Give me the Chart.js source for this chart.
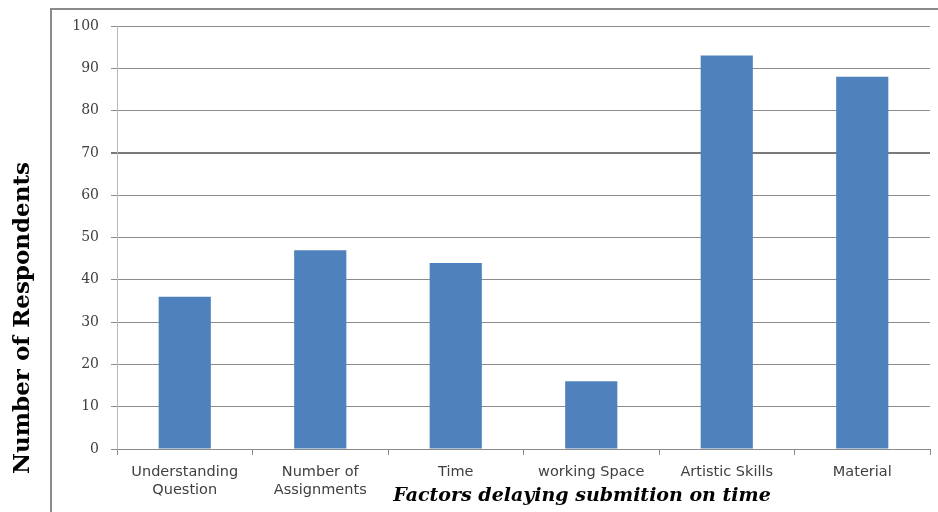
<!DOCTYPE html>
<html>
<head>
<meta charset="utf-8">
<script src="https://cdn.jsdelivr.net/npm/chart.js@4/dist/chart.umd.min.js"></script>
<style>
  html, body { margin: 0; padding: 0; background: #ffffff; }
  #wrap { width: 938px; height: 512px; }
</style>
</head>
<body>
<div id="wrap"><canvas id="c" width="938" height="512"></canvas></div>
<script>
// Factors delaying submission, counted by respondent
const categories = [
  ['Understanding', 'Question'],
  ['Number of', 'Assignments'],
  'Time',
  'working Space',
  'Artistic Skills',
  'Material'
];
const respondents = [36, 47, 44, 16, 93, 88];
const yMin = 0;
const yMax = 100;
const yStep = 10;
const xTitle = 'Factors delaying submition on time';
const yTitle = 'Number of Respondents';

// Outer frame (left and top edges) plus the two axis titles
const framePlugin = {
  id: 'frameAndTitles',
  beforeDraw(chart) {
    const ctx = chart.ctx;
    ctx.save();
    ctx.strokeStyle = '#8a8a8a';
    ctx.lineWidth = 2;
    ctx.beginPath();
    ctx.moveTo(51, 512);
    ctx.lineTo(51, 9);
    ctx.lineTo(938, 9);
    ctx.stroke();
    ctx.restore();
  },
  afterDraw(chart) {
    const ctx = chart.ctx;
    ctx.save();
    ctx.fillStyle = '#000000';
    ctx.textAlign = 'center';
    ctx.textBaseline = 'middle';
    ctx.font = 'bold italic 19px "DejaVu Serif"';
    ctx.fillText(xTitle, 582, 496);
    ctx.translate(23, 318);
    ctx.rotate(-Math.PI / 2);
    ctx.font = 'bold 23px "DejaVu Serif"';
    ctx.fillText(yTitle, 0, 0);
    ctx.restore();
  }
};

new Chart(document.getElementById('c'), {
  type: 'bar',
  data: {
    labels: categories,
    datasets: [{
      data: respondents,
      backgroundColor: '#4F81BD',
      borderWidth: 0,
      categoryPercentage: 1,
      barPercentage: 0.385
    }]
  },
  options: {
    responsive: false,
    animation: false,
    devicePixelRatio: 1,
    layout: { padding: { left: 51, right: 8, top: 26, bottom: 0 } },
    plugins: {
      legend: { display: false },
      tooltip: { enabled: false },
      title: { display: false }
    },
    scales: {
      x: {
        offset: true,
        grid: {
          offset: true,
          drawOnChartArea: false,
          drawTicks: true,
          tickLength: 6,
          color: '#8a8a8a'
        },
        border: { color: '#8a8a8a', width: 1 },
        ticks: {
          color: '#404040',
          font: { family: '"DejaVu Sans"', size: 14.5, lineHeight: 1.25 },
          padding: 8,
          maxRotation: 0,
          autoSkip: false
        },
        afterFit(scale) { scale.height = 63; }
      },
      y: {
        min: yMin,
        max: yMax,
        grid: {
          color: (c) => (c.tick && c.tick.value === 70) ? '#7a7a7a' : '#8c8c8c',
          lineWidth: (c) => (c.tick && c.tick.value === 70) ? 2 : 1,
          tickLength: 6,
          drawTicks: true
        },
        border: { color: '#b8b8b8', width: 1 },
        ticks: {
          stepSize: yStep,
          color: '#404040',
          font: { family: '"DejaVu Serif"', size: 14 },
          padding: 12
        },
        afterFit(scale) { scale.width = 66; }
      }
    }
  },
  plugins: [framePlugin]
});
</script>
</body>
</html>
